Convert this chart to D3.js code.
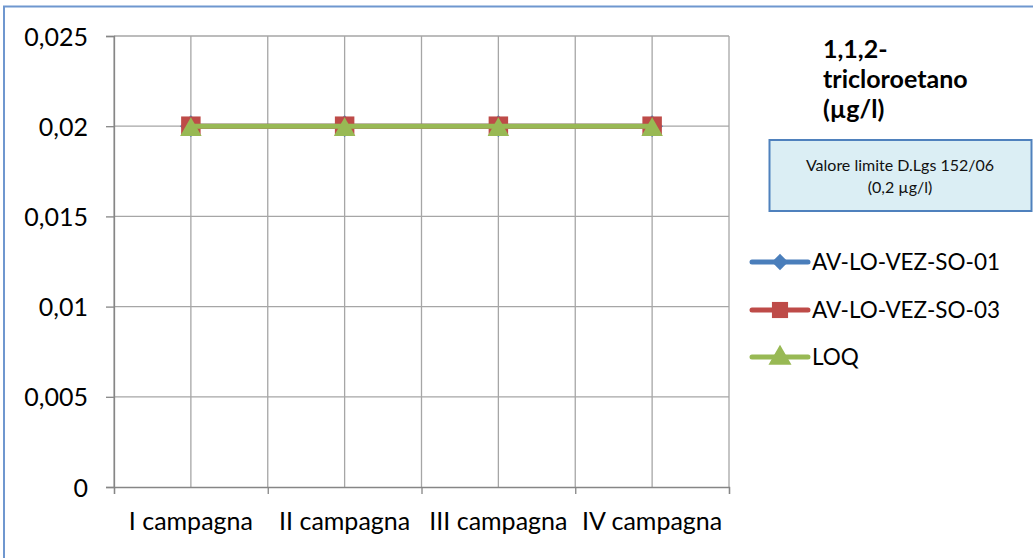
<!DOCTYPE html>
<html><head><meta charset="utf-8">
<script src="https://cdn.jsdelivr.net/npm/d3@7"></script>
<style>
html,body{margin:0;padding:0;background:#fff;}
svg{display:block;font-family:Lato,"Open Sans",sans-serif;}
</style></head>
<body>
<svg id="chart" width="1033" height="558"></svg>
<script>
const categories = ["I campagna","II campagna","III campagna","IV campagna"];
const seriesNames = ["AV-LO-VEZ-SO-01","AV-LO-VEZ-SO-03","LOQ"];
const so01 = [0.02,0.02,0.02,0.02];
const so03 = [0.02,0.02,0.02,0.02];
const loq  = [0.02,0.02,0.02,0.02];
const yTicks = [0,0.005,0.01,0.015,0.02,0.025];
const yTickLabels = ["0","0,005","0,01","0,015","0,02","0,025"];
const titleLines = ["1,1,2-","tricloroetano","(µg/l)"];
const noteLines = ["Valore limite D.Lgs 152/06","(0,2 µg/l)"];

const colors = ["#4A7EBB","#BE4B48","#98B954"];
const symbols = [d3.symbolDiamond2, d3.symbolSquare, d3.symbolTriangle];

const svg = d3.select("#chart");
const W=1033,H=558;
const m={left:114,right:729,top:36,bottom:487};

// outer frame
svg.append("rect").attr("x",4).attr("y",6.5).attr("width",W+10).attr("height",H+10)
  .attr("fill","none").attr("stroke","#6F97CF").attr("stroke-width",2);

const x = d3.scaleBand().domain(categories).range([m.left,m.right]).padding(0);
const y = d3.scaleLinear().domain([0,0.025]).range([m.bottom,m.top]);

// vertical gridlines at band edges and centers
const vLines=[];
categories.forEach(c=>{vLines.push(x(c)); vLines.push(x(c)+x.bandwidth()/2);});
vLines.push(m.right);
svg.append("g").selectAll("line").data(vLines).join("line")
  .attr("x1",d=>d).attr("x2",d=>d).attr("y1",m.top).attr("y2",m.bottom)
  .attr("stroke","#A6A6A6").attr("stroke-width",1.3);

// horizontal gridlines
svg.append("g").selectAll("line").data(yTicks.filter(d=>d>0)).join("line")
  .attr("x1",m.left).attr("x2",m.right).attr("y1",d=>y(d)).attr("y2",d=>y(d))
  .attr("stroke","#A6A6A6").attr("stroke-width",1.3);

// y axis
const yAxis = d3.axisLeft(y).tickValues(yTicks).tickSize(8).tickPadding(18)
  .tickFormat((d,i)=>yTickLabels[i]);
const gy = svg.append("g").attr("transform",`translate(${m.left},0)`).call(yAxis);
gy.select(".domain").attr("stroke","#868686").attr("stroke-width",1.3);
gy.selectAll(".tick line").attr("stroke","#868686").attr("stroke-width",1.3);
gy.selectAll(".tick text").attr("font-size",25).attr("fill","#000")
  .attr("font-family","Lato").attr("dy","0.36em");

// x axis
const xEdge = d3.scaleLinear().domain([0,categories.length]).range([m.left,m.right]);
const gx = svg.append("g").attr("transform",`translate(0,${m.bottom})`)
  .call(d3.axisBottom(xEdge).tickValues(d3.range(categories.length+1)).tickSize(7).tickFormat(""));
gx.select(".domain").attr("stroke","#868686").attr("stroke-width",1.3);
gx.selectAll(".tick line").attr("stroke","#868686").attr("stroke-width",1.3);
svg.append("g").selectAll("text").data(categories).join("text")
  .attr("x",d=>x(d)+x.bandwidth()/2).attr("y",530)
  .attr("text-anchor","middle").attr("font-size",25).attr("font-family","Lato").attr("fill","#000")
  .text(d=>d);

// series
const series=[so01,so03,loq];
const line=d3.line().x((d,i)=>x(categories[i])+x.bandwidth()/2).y(d=>y(d));
const markerSize=[300,380,200];
const markerShift=[0,0,3.5];
series.forEach((s,k)=>{
  svg.append("path").datum(s).attr("d",line).attr("fill","none")
    .attr("stroke",colors[k]).attr("stroke-width",5).attr("stroke-linejoin","round");
  svg.append("g").selectAll("path").data(s).join("path")
    .attr("transform",(d,i)=>`translate(${x(categories[i])+x.bandwidth()/2},${y(d)+markerShift[k]})`)
    .attr("d",d3.symbol().type(symbols[k]).size(markerSize[k])).attr("fill",colors[k]);
});

// title
svg.append("text").attr("x",823).attr("y",58).attr("font-size",25).attr("font-weight","bold")
  .attr("font-family","Lato").attr("fill","#000")
  .selectAll("tspan").data(titleLines).join("tspan")
  .attr("x",823).attr("dy",(d,i)=>i?30:0).text(d=>d);

// note box
svg.append("rect").attr("x",769.5).attr("y",140).attr("width",262).attr("height",71)
  .attr("fill","#DBEEF4").attr("stroke","#4F81BD").attr("stroke-width",2);
svg.append("text").attr("font-size",16).attr("font-family","Lato").attr("fill","#111")
  .attr("text-anchor","middle")
  .selectAll("tspan").data(noteLines).join("tspan")
  .attr("x",900).attr("y",(d,i)=>171+i*22).text(d=>d);

// legend
const legY=[262,310,357];
const lg=svg.append("g").selectAll("g").data(seriesNames).join("g")
  .attr("transform",(d,i)=>`translate(752,${legY[i]})`);
lg.append("line").attr("x1",0).attr("x2",56).attr("y1",0).attr("y2",0)
  .attr("stroke",(d,i)=>colors[i]).attr("stroke-width",5).attr("stroke-linecap","round");
lg.append("path").attr("transform",(d,i)=>`translate(28,${i===2?1:0})`)
  .attr("d",(d,i)=>d3.symbol().type(symbols[i]).size([170,260,230][i])())
  .attr("fill",(d,i)=>colors[i]);
lg.append("text").attr("x",60).attr("y",0).attr("dy","0.36em").attr("font-size",22.5)
  .attr("font-family","Lato").attr("fill","#000").text(d=>d);
</script>
</body></html>
